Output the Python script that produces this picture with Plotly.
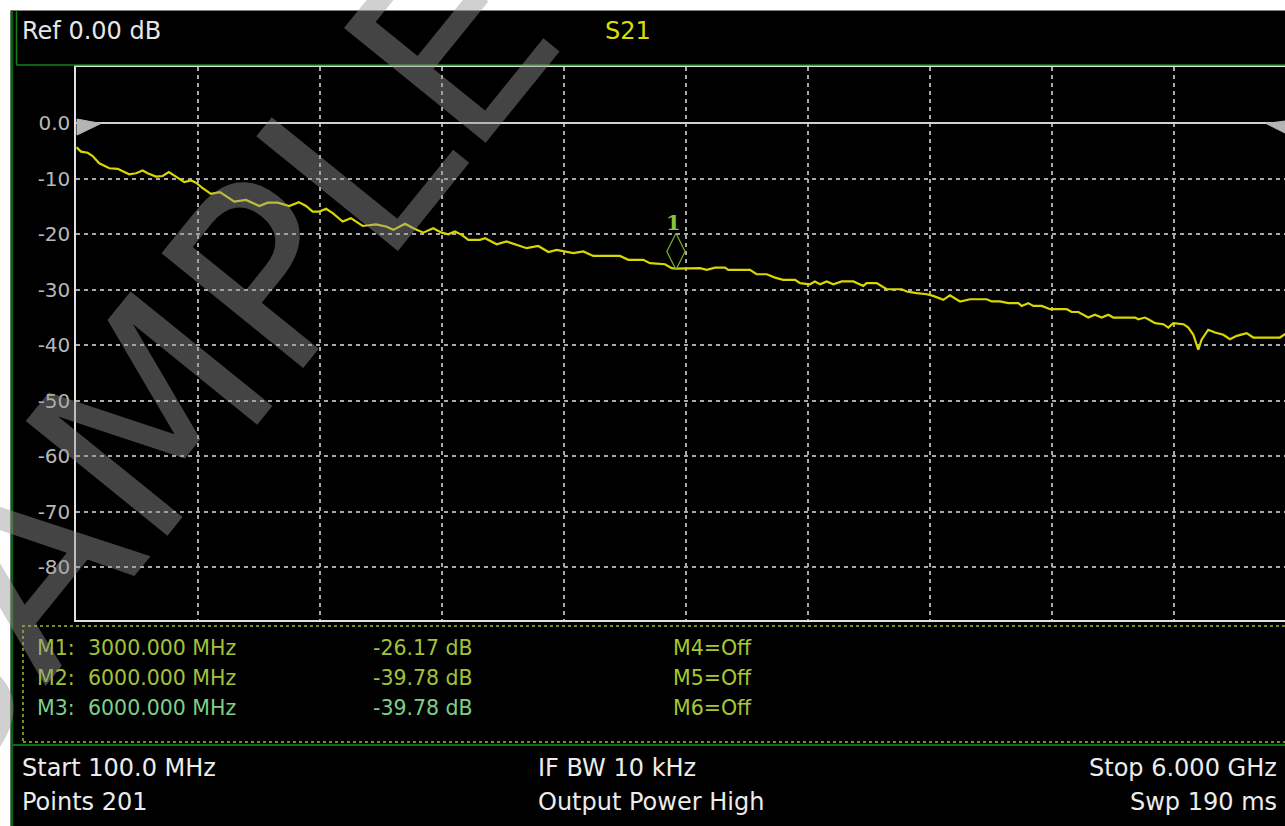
import plotly.graph_objects as go

# ---------------- data ----------------
freq_mhz = [
    100, 123, 155, 179, 211, 260, 300, 356, 389, 421,
    445, 485, 518, 547, 582, 622, 655, 679, 711, 751,
    795, 824, 864, 921, 953, 985, 1026, 1074, 1130, 1176,
    1211, 1243, 1275, 1308, 1340, 1388, 1428, 1485, 1549, 1598,
    1633, 1690, 1730, 1778, 1826, 1867, 1899, 1931, 1964, 1996,
    2052, 2077, 2133, 2181, 2246, 2278, 2334, 2383, 2423, 2504,
    2552, 2600, 2729, 2770, 2842, 2874, 2947, 2979, 3000, 3116,
    3149, 3189, 3237, 3253, 3358, 3390, 3439, 3479, 3519, 3576,
    3600, 3648, 3672, 3697, 3729, 3761, 3802, 3858, 3906, 3922,
    3971, 4019, 4092, 4116, 4164, 4213, 4244, 4293, 4325, 4374,
    4422, 4503, 4527, 4567, 4607, 4656, 4672, 4704, 4728, 4769,
    4809, 4890, 4914, 4946, 4994, 5026, 5059, 5091, 5115, 5220,
    5236, 5268, 5284, 5317, 5357, 5381, 5405, 5454, 5478, 5502,
    5526, 5542, 5574, 5607, 5647, 5679, 5712, 5760, 5792, 5921,
    5945, 5975, 6000,
]
s21_db = [
    -4.3, -5.1, -5.3, -5.9, -7.2, -8.1, -8.2, -9.2, -9.0, -8.5,
    -9.0, -9.6, -9.5, -8.8, -9.6, -10.6, -10.3, -10.7, -11.7, -12.7,
    -12.4, -13.1, -14.1, -13.8, -14.3, -14.9, -14.3, -14.3, -14.9, -14.2,
    -14.9, -15.9, -15.9, -15.4, -16.2, -17.7, -17.1, -18.5, -18.2, -18.6,
    -19.2, -18.1, -18.9, -19.7, -18.9, -19.7, -20.0, -19.5, -20.1, -21.0,
    -21.0, -20.7, -21.8, -21.3, -22.1, -22.5, -22.1, -23.2, -22.8, -23.4,
    -23.1, -23.9, -23.9, -24.6, -24.6, -25.2, -25.4, -26.1, -26.17, -26.1,
    -26.4, -26.0, -26.0, -26.4, -26.4, -27.2, -27.2, -27.8, -28.2, -28.2,
    -28.8, -29.0, -28.5, -29.0, -28.5, -29.0, -28.5, -28.5, -29.3, -28.8,
    -28.8, -29.9, -29.9, -30.3, -30.6, -30.8, -31.1, -31.8, -31.0, -32.1,
    -31.7, -31.7, -32.1, -32.1, -32.4, -32.4, -32.9, -32.4, -32.9, -32.9,
    -33.5, -33.5, -34.0, -34.0, -35.0, -34.5, -35.0, -34.5, -35.0, -35.0,
    -35.3, -35.0, -35.3, -36.0, -36.2, -36.8, -36.0, -36.2, -36.8, -38.1,
    -40.8, -39.0, -37.2, -37.7, -38.1, -38.9, -38.3, -37.8, -38.6, -38.6,
    -38.0, -38.6, -39.78,
]

y_tick_vals = [0, -10, -20, -30, -40, -50, -60, -70, -80]
y_tick_text = ["0.0", "-10", "-20", "-30", "-40", "-50", "-60", "-70", "-80"]

start_mhz = 100
stop_mhz = 6000
x_divisions = 10

marker1_freq = 3000
marker1_val = -26.17

marker_labels = ["M1:", "M2:", "M3:"]
marker_freq_text = ["3000.000 MHz", "6000.000 MHz", "6000.000 MHz"]
marker_val_text = ["-26.17 dB", "-39.78 dB", "-39.78 dB"]
marker_off_text = ["M4=Off", "M5=Off", "M6=Off"]
marker_colors = ["#a3c23a", "#a3c23a", "#7fcf86"]

header_left = "Ref 0.00 dB"
header_title = "S21"
footer_left = ["Start 100.0 MHz", "Points 201"]
footer_mid = ["IF BW 10 kHz", "Output Power High"]
footer_right = ["Stop 6.000 GHz", "Swp 190 ms"]
watermark = "SAMPLE"

# ---------------- layout geometry (pixels) ----------------
W, H = 1285, 826
FONT = "DejaVu Sans"


def px(x):
    return x / W


def py(y):
    return 1 - y / H


plot_left, plot_top, plot_bottom = 76.3, 67.0, 620.0
div_px = 122.0              # pixels per horizontal division
db_px = 5.55                # pixels per dB
zero_y = 123.3              # pixel row of 0 dB

div_mhz = (stop_mhz - start_mhz) / x_divisions
x_end = start_mhz + (W - plot_left) / div_px * div_mhz
y_top = (zero_y - plot_top) / db_px
y_bot = -(plot_bottom - zero_y) / db_px

fig = go.Figure()

fig.add_trace(go.Scatter(
    x=freq_mhz, y=s21_db, mode="lines",
    line=dict(color="#d8d800", width=2.2),
    hoverinfo="skip", showlegend=False,
))

# marker 1 symbol (drawn above the trace point)
fig.add_trace(go.Scatter(
    x=[marker1_freq], y=[marker1_val + 17.0 / db_px], mode="markers",
    marker=dict(symbol="diamond-tall-open", size=26,
                line=dict(color="rgba(130,180,46,0.8)", width=1.2), color="#7fae2e"),
    hoverinfo="skip", showlegend=False,
))

grid_col = "#a8a8a8"
fig.update_xaxes(
    domain=[px(plot_left), 1], range=[start_mhz, x_end],
    tickvals=[start_mhz + k * div_mhz for k in range(x_divisions + 1)],
    showticklabels=False, ticks="",
    showgrid=True, gridcolor=grid_col, gridwidth=2, griddash="4px,4px",
    showline=True, linecolor="#e0e0e0", linewidth=2, mirror=True,
    zeroline=False, fixedrange=True,
)
fig.update_yaxes(
    domain=[py(plot_bottom), py(plot_top)], range=[y_bot, y_top],
    tickvals=y_tick_vals, ticktext=y_tick_text, ticks="",
    tickfont=dict(family=FONT, size=20, color="#b8b8b8"),
    showgrid=True, gridcolor=grid_col, gridwidth=2, griddash="4px,4px",
    showline=True, linecolor="#e0e0e0", linewidth=2, mirror=False,
    zeroline=True, zerolinecolor="#d0d0d0", zerolinewidth=2,
    fixedrange=True,
)

shapes = []
# white strips (top / left)
shapes.append(dict(type="rect", xref="paper", yref="paper", x0=0, x1=1,
                   y0=py(10.5), y1=1, fillcolor="white", line_width=0, layer="below"))
shapes.append(dict(type="rect", xref="paper", yref="paper", x0=0, x1=px(10.5),
                   y0=0, y1=1, fillcolor="white", line_width=0, layer="below"))
# green frame lines
shapes.append(dict(type="line", xref="paper", yref="paper", x0=px(12), x1=px(12),
                   y0=0, y1=py(10.5), line=dict(color="#0b5e0b", width=2.5)))
shapes.append(dict(type="line", xref="paper", yref="paper", x0=px(16.5), x1=px(16.5),
                   y0=py(65), y1=py(10.5), line=dict(color="#158015", width=1.5)))
shapes.append(dict(type="line", xref="paper", yref="paper", x0=px(16.5), x1=1,
                   y0=py(65), y1=py(65), line=dict(color="#158015", width=1.5)))
shapes.append(dict(type="line", xref="paper", yref="paper", x0=px(12), x1=1,
                   y0=py(745), y1=py(745), line=dict(color="#0e6e0e", width=2)))
# dotted marker-table frame
shapes.append(dict(type="rect", xref="paper", yref="paper", x0=px(23), x1=px(1295),
                   y0=py(742), y1=py(626),
                   line=dict(color="#98c020", width=1.5, dash="3px,3px")))
# reference-level triangles
tl = "M {a},{b} L {c},{d} L {a},{e} Z".format(a=px(77), b=py(119), c=px(101), d=py(123.5), e=py(135))
shapes.append(dict(type="path", xref="paper", yref="paper", path=tl,
                   fillcolor="#b4b4b4", line=dict(color="#b4b4b4", width=1)))
tr = "M {a},{b} L {c},{d} L {a},{e} Z".format(a=px(1285), b=py(121), c=px(1266), d=py(123.5), e=py(133))
shapes.append(dict(type="path", xref="paper", yref="paper", path=tr,
                   fillcolor="#b4b4b4", line=dict(color="#b4b4b4", width=1)))

ann = []


def text(x, y, s, color, size, anchor="left", bold=False):
    ann.append(dict(xref="paper", yref="paper", x=px(x), y=py(y), text=("<b>%s</b>" % s) if bold else s,
                    showarrow=False, xanchor=anchor, yanchor="middle",
                    font=dict(family=FONT, size=size, color=color)))


text(20, 31, header_left, "#e6e6e6", 24)
text(628, 31, header_title, "#dcdc00", 24, anchor="center")

rows_y = [648, 678, 708]
for i, yy in enumerate(rows_y):
    c = marker_colors[i]
    text(35, yy, marker_labels[i], c, 20.5)
    text(86, yy, marker_freq_text[i], c, 20.5)
    text(371, yy, marker_val_text[i], c, 20.5)
    text(671, yy, marker_off_text[i], "#a8c832", 20.5)

foot_y = [768, 802]
for i, yy in enumerate(foot_y):
    text(20, yy, footer_left[i], "#ececec", 24)
    text(536, yy, footer_mid[i], "#ececec", 24)
    text(1279, yy, footer_right[i], "#ececec", 24, anchor="right")

# marker number label
ann.append(dict(xref="x", yref="y", x=marker1_freq, y=marker1_val, text="<b>1</b>",
                showarrow=False, yshift=46, xshift=-2, yanchor="middle",
                font=dict(family="DejaVu Serif", size=21, color="#8cc43c")))

# watermark
ann.append(dict(xref="paper", yref="paper", x=px(188), y=py(372), text=watermark,
                showarrow=False, textangle=-51, xanchor="center", yanchor="middle",
                font=dict(family=FONT, size=250, color="rgba(150,150,150,0.45)")))

fig.update_layout(
    width=W, height=H, margin=dict(l=0, r=0, t=0, b=0, pad=0),
    paper_bgcolor="black", plot_bgcolor="black",
    shapes=shapes, annotations=ann, showlegend=False,
)

fig.write_html("out.html", config={"displayModeBar": False, "responsive": False},
               post_script="document.body.style.margin='0';document.body.style.overflow='hidden';")
